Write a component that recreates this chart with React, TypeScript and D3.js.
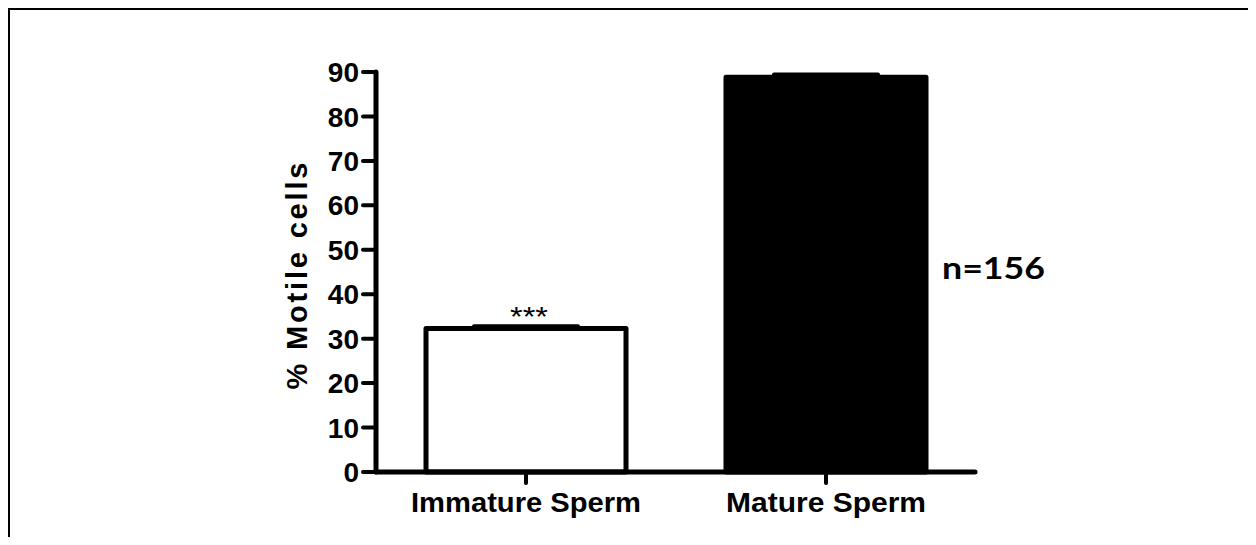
import * as d3 from "d3";

const categories = ["Immature Sperm", "Mature Sperm"];
const means = [32.3, 88.8];
const sems = [0.5, 0.65];
const fills = ["#ffffff", "#000000"];
const yTicks = [0, 10, 20, 30, 40, 50, 60, 70, 80, 90];
const yLabel = "% Motile cells";
const sigLabel = "***";
const nLabel = "n=156";

const W = 1240;
const H = 529;
const OFF = 8; // body margin; positions below are in page px

const App = () => {
    const x = d3.scaleBand()
        .domain(categories)
        .range([376, 976])
        .paddingInner(1 / 3)
        .paddingOuter(1 / 6);

    const y = d3.scaleLinear()
        .domain([0, 90])
        .range([472, 72]);

    const font = "'Liberation Sans', Arial, Helvetica, sans-serif";

    return (
        <svg width={W} height={H} style={{ display: "block" }}>
            <g transform={`translate(${-OFF}, ${-OFF})`}>
                {/* outer frame */}
                <rect x={9} y={9} width={1400} height={800} fill="none" stroke="#000" strokeWidth={2} />

                {/* bars */}
                {categories.map((c, i) => {
                    const x0 = x(c);
                    const bw = x.bandwidth();
                    const cx = x0 + bw / 2;
                    const capW = bw * 0.52;
                    const top = y(means[i] + sems[i]);
                    return (
                        <g key={c}>
                            <line x1={cx} x2={cx} y1={y(means[i])} y2={top} stroke="#000" strokeWidth={3} />
                            <line x1={cx - capW / 2} x2={cx + capW / 2} y1={top} y2={top}
                                stroke="#000" strokeWidth={4} strokeLinecap="round" />
                            <rect x={x0} y={y(means[i])} width={bw} height={y(0) - y(means[i])}
                                fill={fills[i]} stroke="#000" strokeWidth={5} strokeLinejoin="round" />
                        </g>
                    );
                })}

                {/* y axis */}
                <line x1={376} x2={376} y1={y(0)} y2={y(90)} stroke="#000" strokeWidth={5} strokeLinecap="round" />
                {yTicks.map(t => (
                    <g key={t}>
                        <line x1={363} x2={376} y1={y(t)} y2={y(t)} stroke="#000" strokeWidth={4} strokeLinecap="round" />
                        <text x={359} y={y(t)} dy="0.36em" textAnchor="end" fontFamily={font}
                            fontWeight="bold" fontSize={28}>{t}</text>
                    </g>
                ))}

                {/* x axis */}
                <line x1={376} x2={975} y1={y(0)} y2={y(0)} stroke="#000" strokeWidth={5} strokeLinecap="round" />
                {categories.map((c, i) => {
                    const cx = x(c) + x.bandwidth() / 2;
                    const w = i === 0 ? 230 : 200;
                    return (
                        <g key={c}>
                            <line x1={cx} x2={cx} y1={y(0)} y2={483} stroke="#000" strokeWidth={4} strokeLinecap="round" />
                            <text x={cx} y={512} textAnchor="middle" fontFamily={font} fontWeight="bold"
                                fontSize={28} textLength={w} lengthAdjust="spacingAndGlyphs">{c}</text>
                        </g>
                    );
                })}

                {/* y label */}
                <text transform={`translate(307, 276) rotate(-90)`} textAnchor="middle" fontFamily={font}
                    fontWeight="bold" fontSize={29} textLength={227} lengthAdjust="spacing">{yLabel}</text>

                {/* significance */}
                <text x={x(categories[0]) + x.bandwidth() / 2 + 3} y={326} textAnchor="middle" fontFamily={font}
                    fontSize={28} textLength={38} lengthAdjust="spacingAndGlyphs">{sigLabel}</text>

                {/* sample size */}
                <text x={942} y={279} fontFamily="Lato, 'Open Sans', sans-serif" fontWeight="bold"
                    fontSize={31} textLength={103} lengthAdjust="spacingAndGlyphs">{nLabel}</text>
            </g>
        </svg>
    );
};

export default App;
